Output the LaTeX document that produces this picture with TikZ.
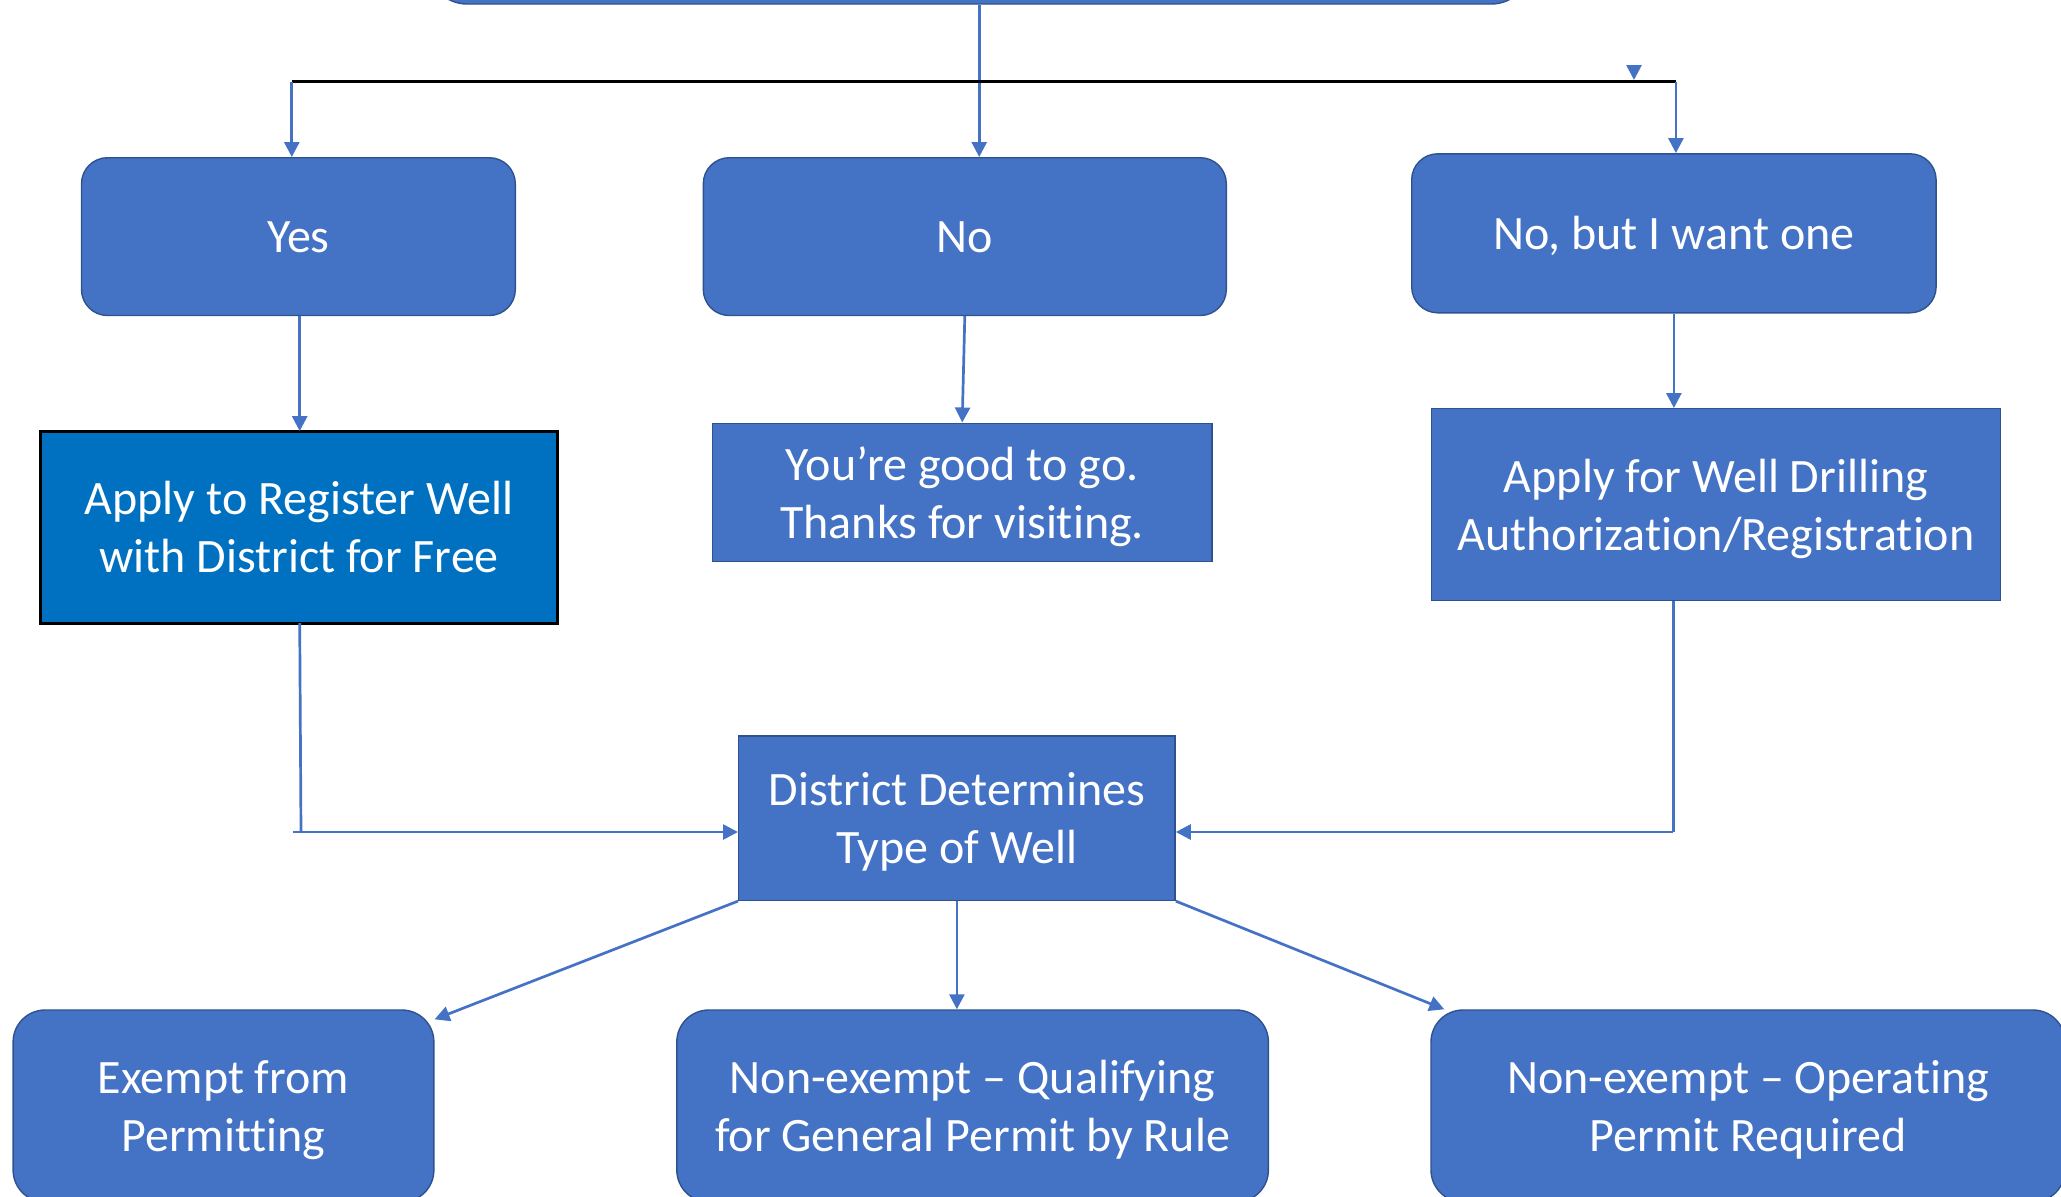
\documentclass[tikz,border=0pt]{standalone}
\usepackage{fontspec}
\setmainfont{Carlito}[Ligatures={NoCommon}]
\usepackage{tikz}
\usetikzlibrary{arrows.meta}

\definecolor{boxblue}{HTML}{4472C4}
\definecolor{boxedge}{HTML}{2F528F}
\definecolor{regblue}{HTML}{0070C0}

\tikzset{
  box/.style={draw=boxedge, line width=0.7pt, fill=boxblue, text=white, align=center,
    font=\fontsize{24}{29}\selectfont, text depth=0pt},
  roundbox/.style={box, rounded corners=13pt},
  wire/.style={draw=boxblue, line width=1.35pt, -{Triangle[length=7.5pt,width=7.5pt]}},
  plainwire/.style={draw=boxblue, line width=1.35pt},
  bar/.style={draw=black, line width=1.7pt}
}

\begin{document}
\begin{tikzpicture}[x=0.5pt,y=-0.5pt]
\useasboundingbox (0,0) rectangle (2061,1196);
\node[roundbox, rounded corners=20pt, minimum width=552pt, minimum height=100pt] (top) at (979.2,-96) {};
\node[roundbox, minimum width=216.9pt, minimum height=78.9pt] (yes) at (298.4,236.6) {Yes};
\node[roundbox, minimum width=261.5pt, minimum height=78.9pt] (no) at (964.8,236.6) {No};
\node[roundbox, minimum width=262.2pt, minimum height=79.5pt] (nobut) at (1673.9,233.3) {No, but I want one};
\node[box, fill=regblue, draw=black, line width=1.5pt, minimum width=258.3pt, minimum height=96pt] (reg) at (299,527) {Apply to Register Well\\with District for Free};
\node[box, minimum width=249.8pt, minimum height=69pt] (good) at (962.2,492.2) {You’re good to go.\\Thanks for visiting.};
\node[box, minimum width=284.5pt, minimum height=96pt] (drill) at (1716,504.7) {Apply for Well Drilling\\Authorization/Registration};
\node[box, minimum width=218.2pt, minimum height=82.2pt] (district) at (956.9,818.2) {District Determines\\Type of Well};
\node[roundbox, rounded corners=16pt, minimum width=210.4pt, minimum height=96pt] (exempt) at (223.5,1106) {Exempt from\\Permitting};
\node[roundbox, rounded corners=16pt, minimum width=295.8pt, minimum height=96pt] (qual) at (972.6,1106) {Non-exempt – Qualifying\\for General Permit by Rule};
\node[roundbox, rounded corners=16pt, minimum width=317pt, minimum height=96pt] (oper) at (1748,1106) {Non-exempt – Operating\\Permit Required};

\coordinate (barL) at (291.8,81.5);
\coordinate (barR) at (1675.9,81.5);
\coordinate (strayA) at (1634,65);
\coordinate (strayB) at (1634,80);
\coordinate (joinL) at (301,832);
\coordinate (joinR) at (1673.2,832);

\draw[plainwire] (top.south) -- (top.south |- barL);
\draw[wire] (top.south |- barL) -- (top.south |- no.north);
\draw[bar] (barL) -- (barR);
\draw[wire] (barL) -- (barL |- yes.north);
\draw[wire] (barR) -- (barR |- nobut.north);
\draw[wire] (strayA) -- (strayB);

\draw[wire] (299.7,315.5) -- (299.7,431.1);
\draw[wire] (no.south) -- (good.north);
\draw[wire] (nobut.south) -- (nobut.south |- drill.north);

\draw[plainwire] (299.7,623) -- (joinL);
\draw[wire] ([xshift=-4pt]joinL) -- (joinL -| district.west);
\draw[plainwire] (joinR |- drill.south) -- (joinR);
\draw[wire] (joinR) -- (joinR -| district.east);

\draw[wire] (district.south west) -- ([yshift=-5pt]exempt.north east);
\draw[wire] (district.south) -- (district.south |- qual.north);
\draw[wire] (district.south east) -- ([xshift=7pt]oper.north west);
\end{tikzpicture}
\end{document}
